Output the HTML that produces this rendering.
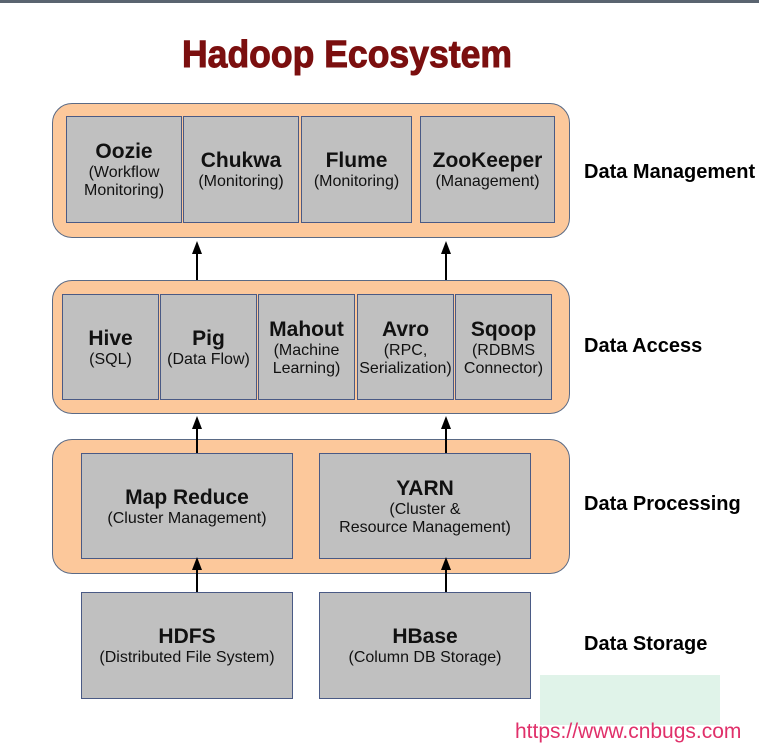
<!DOCTYPE html>
<html><head><style>
body{margin:0;width:759px;height:747px;background:#fff;position:relative;overflow:hidden;font-family:"Liberation Sans",Arial,sans-serif}
.top{position:absolute;left:0;top:0;width:759px;height:3px;background:#5a6470}
.panel{position:absolute;left:52px;width:518px;background:#fcc89b;border:1px solid #5a6a85;border-radius:20px;box-sizing:border-box}
.box{position:absolute;background:#c0c0c0;border:1px solid #4a5a85;box-sizing:border-box;display:flex;flex-direction:column;align-items:center;justify-content:center;text-align:center;color:#111}
.box b{font-size:21px;line-height:25px}
.box span{font-size:16px;line-height:18px}
.lbl{position:absolute;left:584px;font-weight:bold;font-size:20px;color:#000}
.arr{position:absolute;width:2px;background:#000}
.head{position:absolute;width:0;height:0;border-left:5px solid transparent;border-right:5px solid transparent;border-bottom:13px solid #000}
</style></head><body>
<div class="top"></div>
<svg style="position:absolute;left:0;top:0" width="759" height="90"><text x="182" y="67" textLength="330" lengthAdjust="spacingAndGlyphs" font-family="Liberation Sans" font-weight="bold" font-size="38" fill="#7b0f0f" stroke="#7b0f0f" stroke-width="1">Hadoop Ecosystem</text></svg>

<div class="panel" style="top:103px;height:135px"></div>
<div class="box" style="left:66px;top:116px;width:116px;height:107px"><b>Oozie</b><span>(Workflow<br>Monitoring)</span></div>
<div class="box" style="left:183px;top:116px;width:116px;height:107px"><b>Chukwa</b><span>(Monitoring)</span></div>
<div class="box" style="left:301px;top:116px;width:111px;height:107px"><b>Flume</b><span>(Monitoring)</span></div>
<div class="box" style="left:420px;top:116px;width:135px;height:107px"><b>ZooKeeper</b><span>(Management)</span></div>
<div class="lbl" style="top:161px">Data Management</div>

<div class="panel" style="top:280px;height:134px"></div>
<div class="box" style="left:62px;top:294px;width:97px;height:106px"><b>Hive</b><span>(SQL)</span></div>
<div class="box" style="left:160px;top:294px;width:97px;height:106px"><b>Pig</b><span>(Data Flow)</span></div>
<div class="box" style="left:258px;top:294px;width:97px;height:106px"><b>Mahout</b><span>(Machine<br>Learning)</span></div>
<div class="box" style="left:357px;top:294px;width:97px;height:106px"><b>Avro</b><span>(RPC,<br>Serialization)</span></div>
<div class="box" style="left:455px;top:294px;width:97px;height:106px"><b>Sqoop</b><span>(RDBMS<br>Connector)</span></div>
<div class="lbl" style="top:335px">Data Access</div>

<div class="panel" style="top:439px;height:135px"></div>
<div class="box" style="left:81px;top:453px;width:212px;height:106px"><b>Map Reduce</b><span>(Cluster Management)</span></div>
<div class="box" style="left:319px;top:453px;width:212px;height:106px"><b>YARN</b><span>(Cluster &amp;<br>Resource Management)</span></div>
<div class="lbl" style="top:493px">Data Processing</div>

<div class="box" style="left:81px;top:592px;width:212px;height:107px"><b>HDFS</b><span>(Distributed File System)</span></div>
<div class="box" style="left:319px;top:592px;width:212px;height:107px"><b>HBase</b><span>(Column DB Storage)</span></div>
<div class="lbl" style="top:633px">Data Storage</div>

<div class="arr" style="left:196px;top:250px;height:30px"></div><div class="head" style="left:192px;top:241px"></div>
<div class="arr" style="left:445px;top:250px;height:30px"></div><div class="head" style="left:441px;top:241px"></div>
<div class="arr" style="left:196px;top:427px;height:26px"></div><div class="head" style="left:192px;top:416px"></div>
<div class="arr" style="left:445px;top:427px;height:26px"></div><div class="head" style="left:441px;top:416px"></div>
<div class="arr" style="left:196px;top:567px;height:25px"></div><div class="head" style="left:192px;top:557px"></div>
<div class="arr" style="left:445px;top:567px;height:25px"></div><div class="head" style="left:441px;top:557px"></div>

<div style="position:absolute;left:540px;top:675px;width:180px;height:50px;background:#d8f0e4;opacity:.8"></div>
<div style="position:absolute;left:515px;top:720px;font-size:21px;color:#e0306a">https://www.cnbugs.com</div>
</body></html>
